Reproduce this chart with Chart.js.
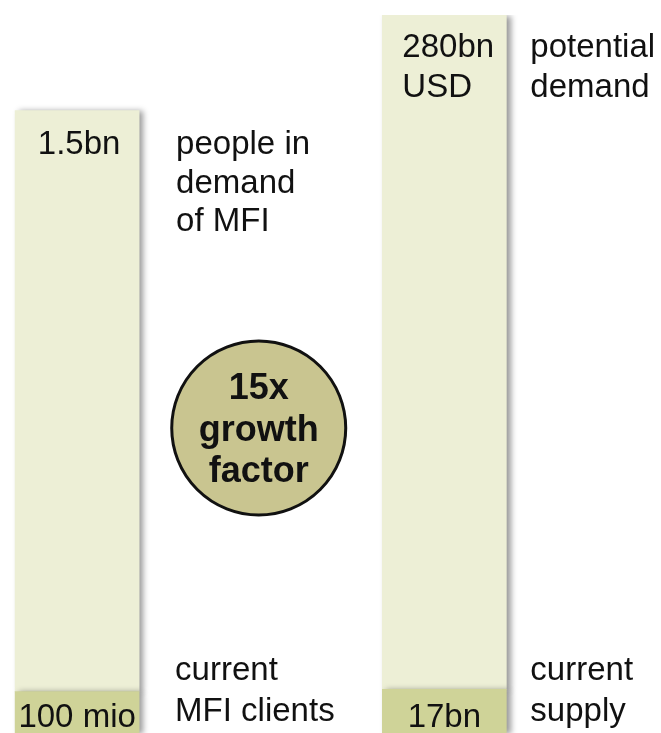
<!DOCTYPE html>
<html lang="en">
<head>
    <meta charset="UTF-8">
    <title>MFI demand vs supply</title>
    <style>
        body {
            margin: 0;
            padding: 0;
            background: #fff;
            overflow: hidden;
        }

        .wrap {
            width: 661px;
            height: 733px;
        }
    </style>
</head>
<body>
    <div class="wrap">
        <canvas id="chart" width="661" height="733"></canvas>
    </div>

    <script src="https://cdn.jsdelivr.net/npm/chart.js"></script>
    <script>
        // people (bn) - left bar
        const peopleCurrent = 0.1;
        const peopleTotal = 1.5;
        // money (bn USD) - right bar
        const supplyCurrent = 17;
        const supplyTotal = 280;

        const topLabels = [['1.5bn'], ['280bn', 'USD']];
        const bottomLabels = ['100 mio', '17bn'];
        const sideTop = [['people in', 'demand', 'of MFI'], ['potential', 'demand']];
        const sideBottom = [['current', 'MFI clients'], ['current', 'supply']];
        const factorText = ['15x', 'growth', 'factor'];

        const lightColor = '#edefd6';
        const darkColor = '#cfd398';
        const circleColor = '#c9c590';
        const font = '33px "Liberation Sans", Arial, sans-serif';

        const shadowPlugin = {
            id: 'shadow',
            beforeDatasetsDraw(chart) {
                const ctx = chart.ctx;
                ctx.save();
                ctx.shadowColor = 'rgba(0,0,0,0.4)';
                ctx.shadowOffsetX = 4;
                ctx.shadowOffsetY = 1;
                ctx.shadowBlur = 6;
            },
            afterDatasetsDraw(chart) {
                chart.ctx.restore();
            }
        };

        const labelPlugin = {
            id: 'labels',
            afterDraw(chart) {
                const ctx = chart.ctx;
                const bars = [chart.getDatasetMeta(1).data[0], chart.getDatasetMeta(3).data[0]];
                const bases = [chart.getDatasetMeta(0).data[0], chart.getDatasetMeta(2).data[0]];
                ctx.save();
                ctx.fillStyle = '#111';
                ctx.font = font;
                ctx.textBaseline = 'alphabetic';

                // values inside the bars
                ctx.textAlign = 'center';
                ctx.fillText(topLabels[0][0], bars[0].x + 2, bars[0].y + 44);
                ctx.fillText(bottomLabels[0], bases[0].x, bases[0].base - 6);
                ctx.fillText(bottomLabels[1], bases[1].x, bases[1].base - 6);

                // right bar top text, left aligned
                ctx.textAlign = 'left';
                const rLeft = bars[1].x - bars[1].width / 2 + 20;
                topLabels[1].forEach((t, i) => ctx.fillText(t, rLeft, bars[1].y + 42 + i * 40));

                const lx = bars[0].x + bars[0].width / 2 + 37;
                const rx = bars[1].x + bars[1].width / 2 + 24;
                sideTop[0].forEach((t, i) => ctx.fillText(t, lx, bars[0].y + 44 + i * 38.5));
                sideTop[1].forEach((t, i) => ctx.fillText(t, rx, bars[1].y + 42 + i * 40));
                sideBottom[0].forEach((t, i) => ctx.fillText(t, lx - 1, 680 + i * 41));
                sideBottom[1].forEach((t, i) => ctx.fillText(t, rx, 680 + i * 41));

                // growth factor circle
                const cx = (bars[0].x + bars[1].x) / 2 - 2;
                const cy = 428;
                ctx.beginPath();
                ctx.arc(cx, cy, 87, 0, Math.PI * 2);
                ctx.fillStyle = circleColor;
                ctx.fill();
                ctx.lineWidth = 3;
                ctx.strokeStyle = '#111';
                ctx.stroke();
                ctx.fillStyle = '#111';
                ctx.textAlign = 'center';
                ctx.font = 'bold 36px "Liberation Sans", Arial, sans-serif';
                factorText.forEach((t, i) => ctx.fillText(t, cx, 399 + i * 41.5));
                ctx.restore();
            }
        };

        const ctx = document.getElementById('chart').getContext('2d');
        new Chart(ctx, {
            type: 'bar',
            data: {
                datasets: [
                    { data: [{ x: 0, y: peopleCurrent }], yAxisID: 'yL', backgroundColor: darkColor },
                    { data: [{ x: 0, y: peopleTotal - peopleCurrent }], yAxisID: 'yL', backgroundColor: lightColor },
                    { data: [{ x: 1, y: supplyCurrent }], yAxisID: 'yR', backgroundColor: darkColor },
                    { data: [{ x: 1, y: supplyTotal - supplyCurrent }], yAxisID: 'yR', backgroundColor: lightColor }
                ]
            },
            options: {
                responsive: false,
                animation: false,
                barThickness: 124,
                layout: { padding: { top: 15, left: 0, right: 0, bottom: 0 } },
                plugins: {
                    legend: { display: false },
                    tooltip: { enabled: false }
                },
                scales: {
                    x: { type: 'linear', offset: false, min: -0.21, max: 1.59, stacked: true, display: false },
                    yL: { stacked: true, min: 0, max: 1.73, display: false },
                    yR: { stacked: true, min: 0, max: 280, display: false }
                }
            },
            plugins: [shadowPlugin, labelPlugin]
        });
    </script>
</body>
</html>
